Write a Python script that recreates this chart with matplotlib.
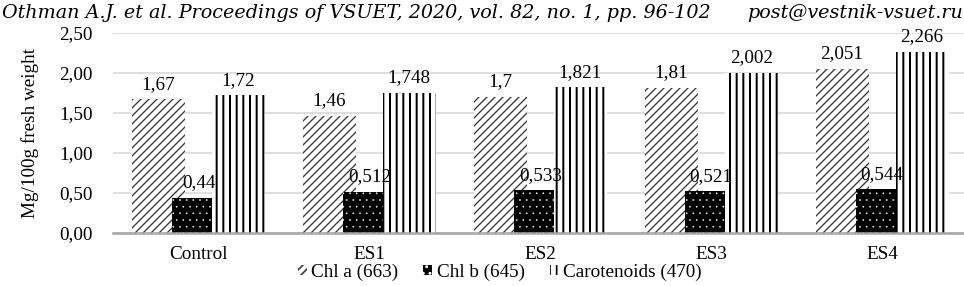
import numpy as np
import matplotlib.pyplot as plt

plt.rcParams['font.family'] = 'Liberation Serif'

# data
groups = ["Control", "ES1", "ES2", "ES3", "ES4"]
chl_a = [1.67, 1.46, 1.7, 1.81, 2.051]
chl_b = [0.44, 0.512, 0.533, 0.521, 0.544]
carot = [1.72, 1.748, 1.821, 2.002, 2.266]
series_names = ["Chl a (663)", "Chl b (645)", "Carotenoids (470)"]
yticks = [0.0, 0.5, 1.0, 1.5, 2.0, 2.5]

def comma(v):
    return str(v).replace('.', ',')

def hatch_lw(bars, lw):
    for p in bars:
        if hasattr(p, 'set_hatch_linewidth'):
            p.set_hatch_linewidth(lw)

dpi = 120
fig = plt.figure(figsize=(965/dpi, 286/dpi), dpi=dpi)
ax = fig.add_axes([113/965, 53/286, 854.5/965, 200/286])

x = np.arange(len(groups))
w = 0.31
step = 0.234

b1 = ax.bar(x - step, chl_a, w, color='white', edgecolor='#383838', hatch='/////',
            linewidth=0, label=series_names[0], zorder=2)
b2 = ax.bar(x, chl_b, w, color='black', edgecolor='white', hatch='...',
            linewidth=0, label=series_names[1], zorder=3)
b3 = ax.bar(x + step, carot, w, color='white', edgecolor='black', hatch='|||',
            linewidth=0, label=series_names[2], zorder=4)
hatch_lw(b1, 0.8)
hatch_lw(b2, 0.2)
hatch_lw(b3, 1.2)

for bars, vals in [(b1, chl_a), (b2, chl_b), (b3, carot)]:
    ax.bar_label(bars, labels=[comma(v) for v in vals], padding=4, fontsize=11.5, zorder=6)

ax.set_xlim(-0.5, 4.5)
ax.set_ylim(0, 2.5)
ax.set_yticks(yticks)
ax.set_yticklabels([("%.2f" % t).replace('.', ',') for t in yticks])
ax.set_xticks(x)
ax.set_xticklabels(groups)
ax.tick_params(length=0, labelsize=11.5, pad=8)
ax.tick_params(axis='y', pad=12)
ax.grid(axis='y', color='#d9d9d9', linewidth=1, zorder=0)
ax.set_axisbelow(True)
for s in ['top', 'right', 'left']:
    ax.spines[s].set_visible(False)
ax.spines['bottom'].set_color('#a6a6a6')
ax.spines['bottom'].set_linewidth(1.5)
ax.spines['bottom'].set_zorder(5)

ax.set_ylabel("Mg/100g fresh weight", fontsize=11.5, labelpad=12)

leg = fig.legend(loc='center', bbox_to_anchor=(0.518, 0.049), ncol=3, frameon=False,
                 prop={'family': 'Liberation Serif', 'size': 11.5},
                 handlelength=0.45, handleheight=0.45, handletextpad=0.25,
                 columnspacing=1.3)

fig.text(0.002, 0.985, "Othman A.J. et al. Proceedings of VSUET, 2020, vol. 82, no. 1, pp. 96-102",
         fontsize=11.5, family='DejaVu Serif', style='italic', va='top', ha='left')
fig.text(0.998, 0.985, "post@vestnik-vsuet.ru", fontsize=11.5, family='DejaVu Serif',
         style='italic', va='top', ha='right')

fig.savefig("out.png", dpi=dpi)
